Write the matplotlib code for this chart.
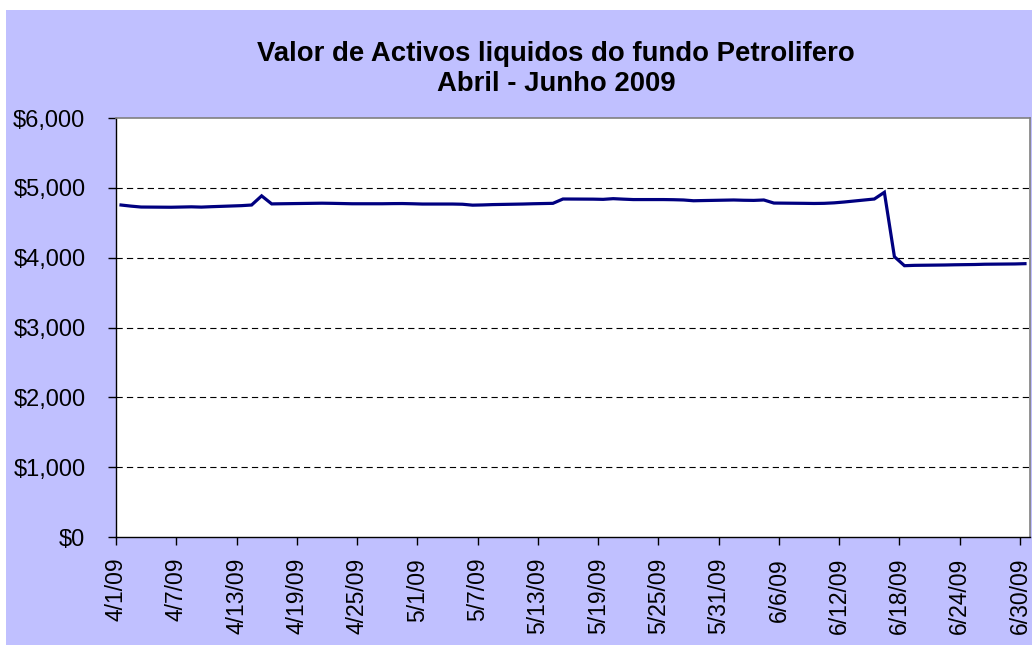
import matplotlib
matplotlib.use("Agg")
import matplotlib.pyplot as plt
import matplotlib.ticker as mticker
from matplotlib.patches import Rectangle
import pandas as pd

plt.rcParams['font.family'] = ['Liberation Sans', 'DejaVu Sans']
plt.rcParams['lines.scale_dashes'] = False

# ---- data ----
dates_apr = ["2009-04-01", "2009-04-02", "2009-04-03", "2009-04-06", "2009-04-07", "2009-04-08",
             "2009-04-09", "2009-04-10", "2009-04-13", "2009-04-14", "2009-04-15", "2009-04-16",
             "2009-04-17", "2009-04-20", "2009-04-21", "2009-04-22", "2009-04-23", "2009-04-24",
             "2009-04-27", "2009-04-28", "2009-04-29", "2009-04-30"]
values_apr = [4754, 4738, 4725, 4722, 4725, 4728, 4724, 4730, 4745, 4754, 4885, 4770,
              4772, 4778, 4780, 4778, 4775, 4772, 4772, 4774, 4775, 4772]

dates_may = ["2009-05-01", "2009-05-04", "2009-05-05", "2009-05-06", "2009-05-07", "2009-05-08",
             "2009-05-11", "2009-05-12", "2009-05-13", "2009-05-14", "2009-05-15", "2009-05-18",
             "2009-05-19", "2009-05-20", "2009-05-21", "2009-05-22", "2009-05-25", "2009-05-26",
             "2009-05-27", "2009-05-28", "2009-05-29"]
values_may = [4768, 4768, 4765, 4752, 4755, 4760, 4768, 4772, 4775, 4778, 4840, 4838,
              4835, 4845, 4838, 4832, 4832, 4830, 4826, 4815, 4818]

dates_jun = ["2009-06-01", "2009-06-02", "2009-06-03", "2009-06-04", "2009-06-05", "2009-06-08",
             "2009-06-09", "2009-06-10", "2009-06-11", "2009-06-12", "2009-06-15", "2009-06-16",
             "2009-06-17", "2009-06-18", "2009-06-19", "2009-06-22", "2009-06-23", "2009-06-24",
             "2009-06-25", "2009-06-26", "2009-06-29", "2009-06-30"]
values_jun = [4826, 4822, 4820, 4826, 4782, 4778, 4776, 4778, 4785, 4797, 4840, 4936,
              4014, 3885, 3890, 3895, 3898, 3900, 3902, 3906, 3910, 3914]

tick_dates = ["2009-04-01", "2009-04-07", "2009-04-13", "2009-04-19", "2009-04-25", "2009-05-01",
              "2009-05-07", "2009-05-13", "2009-05-19", "2009-05-25", "2009-05-31", "2009-06-06",
              "2009-06-12", "2009-06-18", "2009-06-24", "2009-06-30"]

title_text = "Valor de Activos liquidos do fundo Petrolifero\nAbril - Junho 2009"

# ---- build ----
start = pd.Timestamp("2009-04-01")
dates = pd.to_datetime(dates_apr + dates_may + dates_jun)
values = values_apr + values_may + values_jun
xpos = [(d - start).days + 0.5 for d in dates]
ticks = pd.to_datetime(tick_dates)
tick_x = [(d - start).days for d in ticks]
tick_lbl = [f"{d.month}/{d.day}/{d.strftime('%y')}" for d in ticks]

W, H = 1032, 646
fig = plt.figure(figsize=(W / 100, H / 100), dpi=100)
fig.patch.set_facecolor("white")
fig.patches.append(Rectangle((6 / W, 1 / H), 1026 / W, 635 / H, transform=fig.transFigure,
                             facecolor="#C0C0FF", edgecolor="none", zorder=-10))

ax = fig.add_axes([116 / W, (H - 537) / H, (1030 - 116) / W, (537 - 118) / H])
ax.set_zorder(1)
ax.set_facecolor("white")
ax.plot(xpos, values, color="#000080", lw=2.3, solid_joinstyle="miter", zorder=3)

ax.set_xlim(0, 91)
ax.set_ylim(0, 6000)
ax.set_yticks([0, 1000, 2000, 3000, 4000, 5000, 6000])
ax.yaxis.set_major_formatter(mticker.FuncFormatter(lambda v, p: f"${v:,.0f}"))
ax.set_xticks(tick_x)
ax.set_xticklabels(tick_lbl, rotation=90, va="top", ha="center")

for g in [1000, 2000, 3000, 4000, 5000]:
    ax.axhline(g, color="black", lw=0.8, linestyle=(0, (4.5, 3.0)), zorder=1)

for s in ["top", "right"]:
    ax.spines[s].set_color("#808080")
    ax.spines[s].set_linewidth(1.2)
for s in ["left", "bottom"]:
    ax.spines[s].set_color("black")
    ax.spines[s].set_linewidth(1.0)

ax.tick_params(axis="y", direction="out", length=6, width=1, labelsize=17, pad=16)
ax.tick_params(axis="x", direction="out", length=6, width=1, labelsize=16.5, pad=9)

fig.text(556 / W, 1 - 69 / H, title_text, ha="center", va="center",
         fontsize=19.8, fontweight="bold", linespacing=1.2, zorder=5)

fig.savefig("out.png", dpi=100, facecolor=fig.get_facecolor())
